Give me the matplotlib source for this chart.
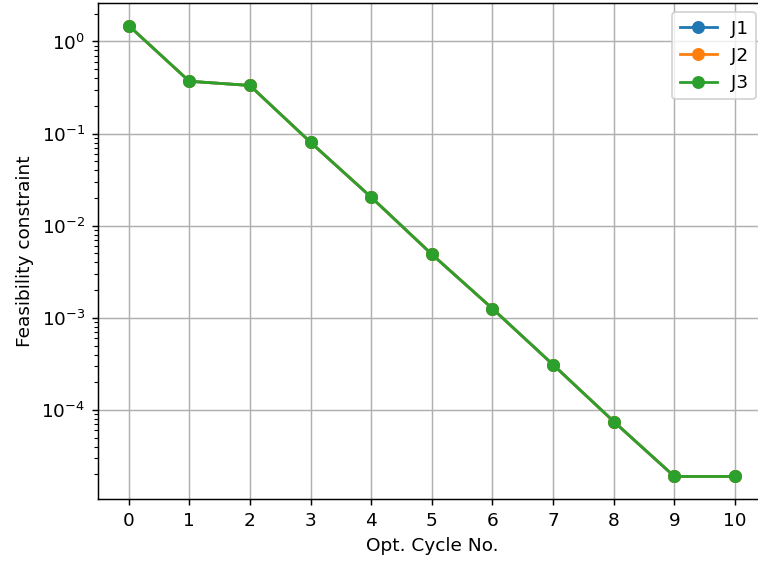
import numpy as np
import matplotlib.pyplot as plt

cycles = list(range(11))
j1 = [1.49, 0.37, 0.333, 0.0805, 0.0204, 0.0049, 0.00126, 0.00031, 7.5e-5, 1.9e-5, 1.9e-5]
j2 = list(j1)
j3 = list(j1)

dpi = 133
fig = plt.figure(figsize=(758 / dpi, 561 / dpi), dpi=dpi)
# right edge of the axes runs just past the figure edge
ax = fig.add_axes([0.1297, 0.1105, 0.880, 0.8842])

ax.plot(cycles, j1, marker='o', label='J1')
ax.plot(cycles, j2, marker='o', label='J2')
ax.plot(cycles, j3, marker='o', label='J3')

ax.set_yscale('log')
ax.set_xticks(cycles)
ax.set_xlabel('Opt. Cycle No.')
ax.set_ylabel('Feasibility constraint')
ax.grid(True)
ax.legend(loc='upper right')

fig.savefig('out.png', dpi=dpi)
